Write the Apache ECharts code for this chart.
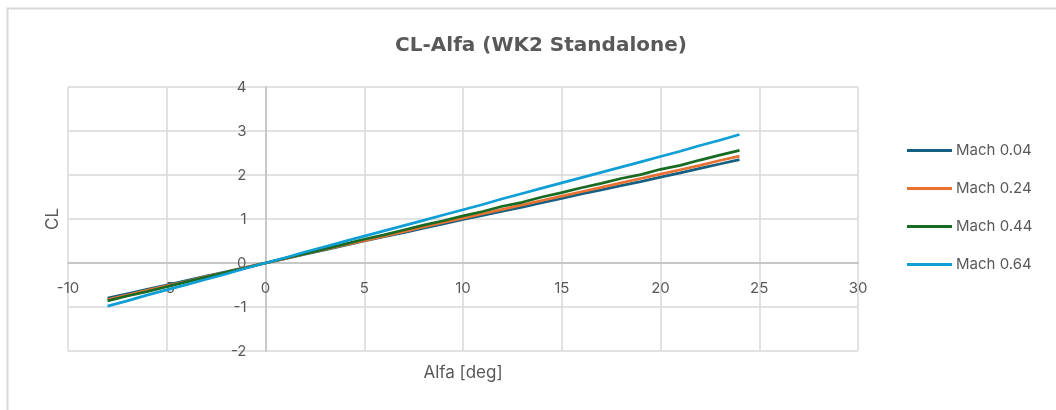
<!DOCTYPE html>
<html>
<head>
<meta charset="utf-8">
<script src="https://cdn.jsdelivr.net/npm/echarts@6/dist/echarts.min.js"></script>
<style>
  html, body { margin: 0; padding: 0; background: #fff; }
  #chart { width: 1056px; height: 410px; }
</style>
</head>
<body>
<div id="chart"></div>
<script>
// Angle of attack [deg]
const alfa = [-8, -7, -6, -5, -4, -3, -2, -1, 0, 1, 2, 3, 4, 5, 6, 7, 8, 9, 10, 11, 12, 13, 14, 15, 16, 17, 18, 19, 20, 21, 22, 23, 24];

// Lift coefficient per Mach number
const clMach004 = [-0.80, -0.70, -0.60, -0.50, -0.40, -0.30, -0.20, -0.10, 0.00, 0.10, 0.20, 0.30, 0.40, 0.50, 0.60, 0.69, 0.79, 0.89, 0.99, 1.08, 1.18, 1.27, 1.37, 1.47, 1.57, 1.66, 1.76, 1.85, 1.95, 2.05, 2.15, 2.25, 2.35];
const clMach024 = [-0.83, -0.73, -0.62, -0.52, -0.42, -0.31, -0.21, -0.10, 0.00, 0.10, 0.21, 0.31, 0.41, 0.51, 0.61, 0.71, 0.82, 0.92, 1.02, 1.12, 1.22, 1.32, 1.42, 1.52, 1.62, 1.72, 1.82, 1.92, 2.02, 2.12, 2.22, 2.33, 2.43];
const clMach044 = [-0.86, -0.75, -0.65, -0.54, -0.43, -0.32, -0.21, -0.11, 0.00, 0.11, 0.21, 0.32, 0.43, 0.54, 0.64, 0.75, 0.86, 0.96, 1.07, 1.17, 1.29, 1.38, 1.50, 1.60, 1.71, 1.81, 1.92, 2.01, 2.13, 2.22, 2.34, 2.45, 2.56];
const clMach064 = [-0.98, -0.86, -0.73, -0.61, -0.49, -0.37, -0.25, -0.12, 0.00, 0.12, 0.25, 0.37, 0.49, 0.61, 0.73, 0.85, 0.97, 1.09, 1.21, 1.33, 1.46, 1.58, 1.70, 1.82, 1.94, 2.06, 2.18, 2.30, 2.42, 2.54, 2.67, 2.79, 2.92];

const seriesNames = ['Mach 0.04', 'Mach 0.24', 'Mach 0.44', 'Mach 0.64'];
const seriesColors = ['#156082', '#E97132', '#196B24', '#0F9ED5'];
const seriesValues = [clMach004, clMach024, clMach044, clMach064];

const textGray = '#595959';
const font = 'Inter';

const chart = echarts.init(document.getElementById('chart'), null, { renderer: 'canvas' });

// Plot box: x in [-10, 30], y in [-2, 4]; the axes cross at the origin,
// so each axis is shifted from the plot edge onto the zero line.
const gridBox = { left: 68, right: 198, top: 87, bottom: 59 };

chart.setOption({
  animation: false,
  backgroundColor: '#ffffff',
  title: {
    text: 'CL-Alfa (WK2 Standalone)',
    left: 536,
    textAlign: 'center',
    top: 31,
    textStyle: { color: textGray, fontFamily: 'DejaVu Sans', fontWeight: 'bold', fontSize: 20 }
  },
  graphic: [{
    type: 'rect',
    shape: { x: 7.5, y: 8.5, width: 1200, height: 600 },
    style: { fill: 'none', stroke: '#d9d9d9', lineWidth: 2 },
    silent: true
  }],
  legend: {
    orient: 'vertical',
    left: 902,
    top: 138,
    itemWidth: 45,
    itemHeight: 3,
    itemGap: 23,
    icon: 'rect',
    textStyle: { color: textGray, fontFamily: font, fontSize: 15, padding: [0, 0, 0, -1] },
    data: seriesNames
  },
  grid: Object.assign({ containLabel: false, outerBoundsMode: 'none' }, gridBox),
  xAxis: {
    type: 'value',
    min: -10, max: 30, interval: 5,
    offset: -88,
    name: 'Alfa [deg]',
    nameLocation: 'middle',
    nameGap: 101,
    nameTextStyle: { color: textGray, fontFamily: font, fontSize: 17 },
    axisLine: { onZero: false, lineStyle: { color: '#bfbfbf', width: 1.5 } },
    axisTick: { show: false },
    axisLabel: { color: textGray, fontFamily: font, fontSize: 15, margin: 18 },
    splitLine: { show: true, lineStyle: { color: '#d9d9d9', width: 1.5 } }
  },
  yAxis: {
    type: 'value',
    min: -2, max: 4, interval: 1,
    offset: -197.5,
    name: 'CL',
    nameLocation: 'middle',
    nameGap: 204,
    nameTextStyle: { color: textGray, fontFamily: font, fontSize: 17 },
    axisLine: { onZero: false, lineStyle: { color: '#bfbfbf', width: 1.5 } },
    axisTick: { show: false },
    axisLabel: { color: textGray, fontFamily: font, fontSize: 15, margin: 19 },
    splitLine: { show: true, lineStyle: { color: '#d9d9d9', width: 1.5 } }
  },
  series: seriesNames.map((name, i) => ({
    name: name,
    type: 'line',
    data: alfa.map((a, k) => [a, seriesValues[i][k]]),
    showSymbol: false,
    symbol: 'none',
    smooth: false,
    color: seriesColors[i],
    lineStyle: { color: seriesColors[i], width: 2.75 }
  }))
});
</script>
</body>
</html>
